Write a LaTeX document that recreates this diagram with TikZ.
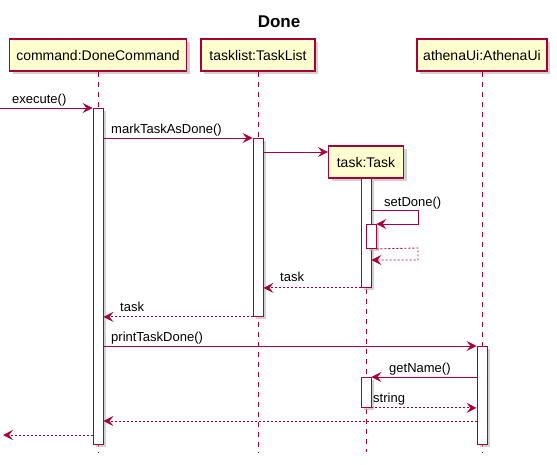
\documentclass[tikz,border=0pt]{standalone}
\usepackage{fontspec}
\setmainfont{Liberation Sans}
\usetikzlibrary{arrows.meta,shadows}
\definecolor{pu}{HTML}{A80036}
\definecolor{pufill}{HTML}{FEFECE}
\tikzset{
  x=1pt,y=-1pt,
  shad/.style={drop shadow={shadow xshift=3pt,shadow yshift=-3pt,fill=black!30,opacity=0.6}},
  part/.style={draw=pu,line width=1.2pt,fill=pufill,shad,inner sep=0pt,minimum height=32pt,font=\fontsize{14}{16}\selectfont},
  bar/.style={draw=pu,line width=0.9pt,fill=white,shad,inner sep=0pt,minimum width=10pt,anchor=north},
  life/.style={draw=pu,line width=0.8pt,dash pattern=on 5pt off 5pt},
  msg/.style={draw=pu,line width=0.9pt,-{Stealth[length=10pt,width=10pt,inset=4pt]}},
  ret/.style={msg,dash pattern=on 2pt off 2pt},
  lbl/.style={anchor=base west,inner sep=0pt,font=\fontsize{13}{15}\selectfont}
}
\begin{document}
\begin{tikzpicture}
\useasboundingbox (0,0) rectangle (557,464);
\node[font=\fontsize{17}{20}\selectfont\bfseries] (title) at (279,22) {Done};
% participants
\node[part,minimum width=177pt] (pc) at (98,55) {command:DoneCommand};
\node[part,minimum width=114pt] (pl) at (258,55) {tasklist:TaskList};
\node[part,minimum width=130pt] (pa) at (482,55) {athenaUi:AthenaUi};
\node[part,minimum width=75pt] (pt) at (366,162) {task:Task};
% lifelines
\coordinate (ec) at (98,452);
\coordinate (el) at (258,452);
\coordinate (ea) at (482,452);
\coordinate (et) at (366,452);
\draw[life] (pc.south) -- (ec);
\draw[life] (pl.south) -- (el);
\draw[life] (pa.south) -- (ea);
\draw[life] (pt.south) -- (et);
% activation bars
\node[bar,minimum height=336pt] (b1) at (98,108) {};
\node[bar,minimum height=178pt] (b2) at (258,138) {};
\node[bar,minimum height=109pt] (b3) at (366,178) {};
\node[bar,minimum height=24pt] (b4) at (371,224) {};
\node[bar,minimum height=98pt] (b5) at (482,346) {};
\node[bar,minimum height=30pt] (b6) at (366,377) {};
% messages
\coordinate (start) at (0,108);
\coordinate (endl) at (3,435);
\draw[msg] (start) -- (b1.north west);
\node[lbl] (l1) at (12,103) {execute()};
\draw[msg] (b1.east |- 0,138) -- (b2.north west);
\node[lbl] (l2) at (111,133) {markTaskAsDone()};
\draw[msg] (b2.east |- 0,152) -- (pt.west |- 0,152);
\coordinate (s1) at (418,210);
\coordinate (s2) at (418,224);
\draw[msg] (b3.east |- s1) -- (s1) -- (s2) -- (b4.north east);
\node[lbl] (l3) at (384,206) {setDone()};
\coordinate (r1) at (418,248);
\coordinate (r2) at (418,260);
\draw[ret] (b4.south east) -- (r1) -- (r2) -- (b3.east |- r2);
\draw[ret] (b3.south west) -- (b2.east |- b3.south west);
\node[lbl] (l4) at (280,281) {task};
\draw[ret] (b2.south west) -- (b1.east |- b2.south west);
\node[lbl] (l5) at (120,311) {task};
\draw[msg] (b1.east |- b5.north west) -- (b5.north west);
\node[lbl] (l6) at (111,341) {printTaskDone()};
\draw[msg] (b5.west |- b6.north east) -- (b6.north east);
\node[lbl] (l7) at (389,372) {getName()};
\draw[ret] (b6.south east) -- (b5.west |- b6.south east);
\node[lbl] (l8) at (373,402) {string};
\draw[ret] (b5.west |- 0,421) -- (b1.east |- 0,421);
\draw[ret] (b1.west |- endl) -- (endl);
\end{tikzpicture}
\end{document}
